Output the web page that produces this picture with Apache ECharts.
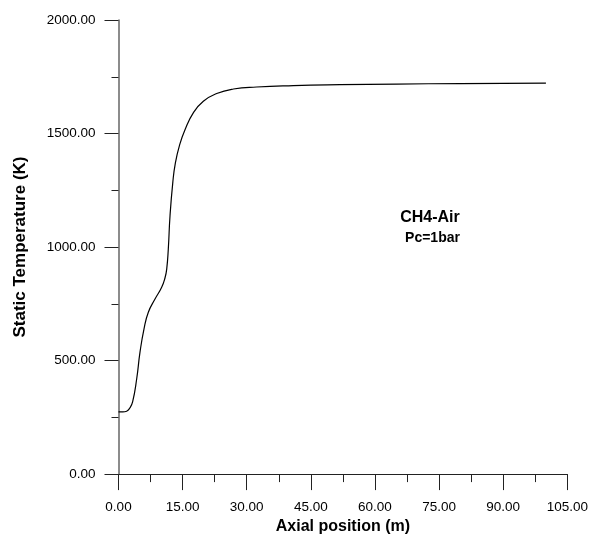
<!DOCTYPE html>
<html>
<head>
<meta charset="utf-8">
<script src="https://cdn.jsdelivr.net/npm/echarts@6/dist/echarts.min.js"></script>
<style>html,body{margin:0;padding:0;background:#fff}#c{width:600px;height:540px}</style>
</head>
<body>
<div id="c"></div>
<script>
// Axial position (m)
const positions = [0, 1.0, 1.9, 2.6, 3.3, 4.26, 5.03, 5.97, 6.98, 8.54, 10.1, 10.9, 11.28, 11.65, 12.05, 12.7, 13.3, 14.3, 15.56, 17.5, 19.85, 22.97, 26.9, 32.3, 40.9, 51.8, 65, 80, 100];
// Static temperature (K)
const temperatures = [274, 274, 277, 290, 318, 420, 537, 640, 713, 771, 823, 866, 903, 991, 1137, 1284, 1370, 1450, 1517, 1591, 1642, 1676, 1696, 1705, 1711, 1715, 1718, 1720, 1722];
const xTitle = 'Axial position (m)';
const yTitle = 'Static Temperature (K)';
const noteLines = ['CH4-Air', 'Pc=1bar'];

const FONT = 'Arial, "Liberation Sans", sans-serif';
const chart = echarts.init(document.getElementById('c'), null, {renderer: 'canvas'});
chart.setOption({
  animation: false,
  backgroundColor: '#fff',
  grid: {left: 118.5, right: 32.7, top: 20, bottom: 64.3},
  xAxis: {
    type: 'value', min: 0, max: 105, interval: 15,
    name: xTitle, nameLocation: 'middle', nameGap: 44,
    nameTextStyle: {fontFamily: FONT, fontWeight: 'bold', fontSize: 16, color: '#000'},
    axisLine: {show: true, onZero: false, lineStyle: {color: '#222', width: 1}},
    axisTick: {show: true, inside: false, length: 16, lineStyle: {color: '#222', width: 1}},
    minorTick: {show: true, splitNumber: 2, length: 8, lineStyle: {color: '#222', width: 1}},
    splitLine: {show: false},
    axisLabel: {margin: 26, fontFamily: FONT, fontSize: 13.5, color: '#000', formatter: v => v.toFixed(2)}
  },
  yAxis: {
    type: 'value', min: 0, max: 2000, interval: 500,
    name: yTitle, nameLocation: 'middle', nameGap: 90,
    nameTextStyle: {fontFamily: FONT, fontWeight: 'bold', fontSize: 17, color: '#000'},
    axisLine: {show: true, onZero: false, lineStyle: {color: '#666', width: 1.5}},
    axisTick: {show: true, inside: false, length: 14, lineStyle: {color: '#222', width: 1}},
    minorTick: {show: true, splitNumber: 2, length: 7, lineStyle: {color: '#222', width: 1}},
    splitLine: {show: false},
    axisLabel: {margin: 23, fontFamily: FONT, fontSize: 13.5, color: '#000', formatter: v => v.toFixed(2)}
  },
  series: [{
    type: 'line',
    data: positions.map((x, i) => [x, temperatures[i]]),
    showSymbol: false,
    smooth: 0.5,
    lineStyle: {color: '#000', width: 1.2}
  }],
  graphic: [
    {type: 'text', x: 430, y: 218, style: {text: noteLines[0], fontFamily: FONT, fontWeight: 'bold', fontSize: 16, fill: '#000', align: 'center', verticalAlign: 'middle'}},
    {type: 'text', x: 432.5, y: 238, style: {text: noteLines[1], fontFamily: FONT, fontWeight: 'bold', fontSize: 14, fill: '#000', align: 'center', verticalAlign: 'middle'}}
  ]
});
</script>
</body>
</html>
